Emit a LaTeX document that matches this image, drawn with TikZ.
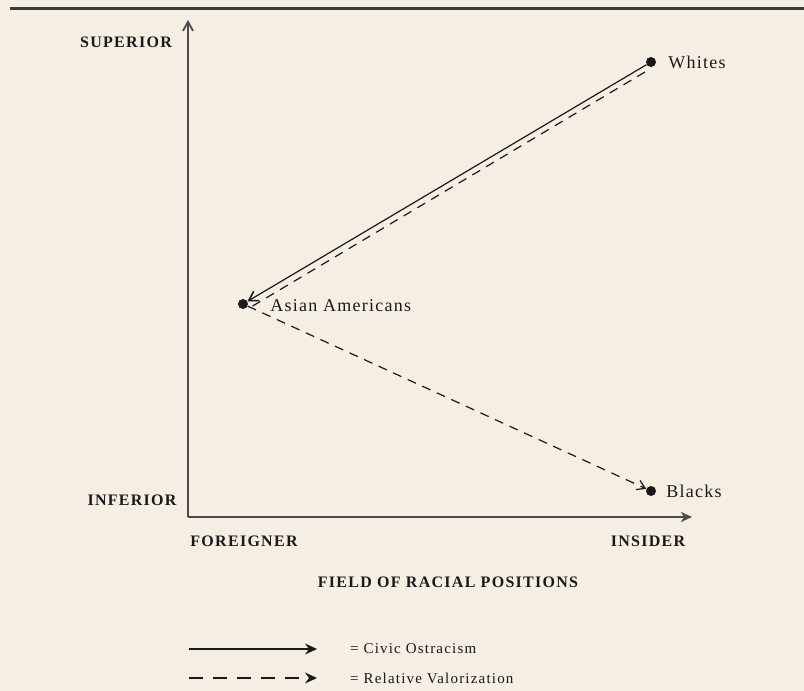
\documentclass[tikz,border=0pt]{standalone}
\usepackage{fontspec}
\setmainfont{Liberation Serif}
\newfontfamily\placefont{Liberation Serif}[LetterSpace=7]
\newfontfamily\axisfont{Liberation Serif}[LetterSpace=8]
\newfontfamily\keyfont{Liberation Serif}[LetterSpace=8]
\usetikzlibrary{arrows.meta, positioning}

\definecolor{paper}{RGB}{245,239,227}
\definecolor{ink}{RGB}{25,25,25}
\definecolor{axisgray}{RGB}{75,75,75}

\tikzset{
    dot/.style={circle, fill=ink, inner sep=0pt, minimum size=10pt},
    place/.style={text=ink, font=\placefont\fontsize{18}{20}\selectfont, inner sep=2pt},
    axislabel/.style={text=ink, font=\axisfont\bfseries\fontsize{16}{18}\selectfont, inner sep=0pt},
    legendlabel/.style={text=ink, font=\keyfont\fontsize{15}{17}\selectfont, inner sep=0pt, anchor=west},
    civic/.style={draw=ink, line width=1.2pt},
    valor/.style={draw=ink, line width=1.2pt, dash pattern=on 9pt off 7pt},
}

\begin{document}
\begin{tikzpicture}[x=1pt, y=-1pt]
        \useasboundingbox[fill=paper] (0,0) rectangle (804,691);
        \draw[ink!85, line width=3pt] (10,8) -- (804,8);

        % Achsen
        \coordinate (origin) at (188,517);
        \coordinate (ytop) at (188,20);
        \coordinate (xend) at (692,517);
        \draw[axisgray, line width=1.8pt, -{Straight Barb[length=9pt, width=10pt]}] (origin) -- (ytop);
        \draw[axisgray, line width=1.8pt, -{Stealth[length=11pt, width=10pt, inset=3pt]}] (origin) -- (xend);

        \node[axislabel] (superior) at (126,42) {SUPERIOR};
        \node[axislabel] (inferior) at (132,500) {INFERIOR};
        \node[axislabel] (foreigner) at (244,541) {FOREIGNER};
        \node[axislabel] (insider) at (648,541) {INSIDER};
        \node[axislabel] (field) at (448,582) {FIELD OF RACIAL POSITIONS};

        % Gruppen
        \node[dot] (whites) at (651,62) {};
        \node[dot] (asian) at (243,304) {};
        \node[dot] (blacks) at (651,491) {};

        \node[place, right=10pt of whites] {Whites};
        \node[place, right=20pt of asian, yshift=-2pt] {Asian Americans};
        \node[place, right=8pt of blacks] {Blacks};

        \coordinate (wdash) at (645,72);
        \coordinate (adash) at (251,307);

        \draw[civic, -{Straight Barb[length=9pt, width=11pt, line width=1.6pt]}] (whites) -- (asian);
        \draw[valor] (wdash) -- (adash);
        \draw[valor, -{Straight Barb[length=8pt, width=10pt]}] (asian) -- (blacks);

        % Legende
        \coordinate (ls1) at (189,649);
        \coordinate (le1) at (317,649);
        \coordinate (ls2) at (189,678);
        \coordinate (le2) at (317,678);
        \draw[civic, -{Stealth[length=12pt, width=11pt, inset=4pt]}] (ls1) -- (le1);
        \draw[valor, dash pattern=on 14pt off 10pt, -{Stealth[length=12pt, width=11pt, inset=4pt]}] (ls2) -- (le2);
        \node[legendlabel] (civiclabel) at (350,649) {= Civic Ostracism};
        \node[legendlabel] (valorlabel) at (350,678) {= Relative Valorization};
    \end{tikzpicture}
\end{document}
